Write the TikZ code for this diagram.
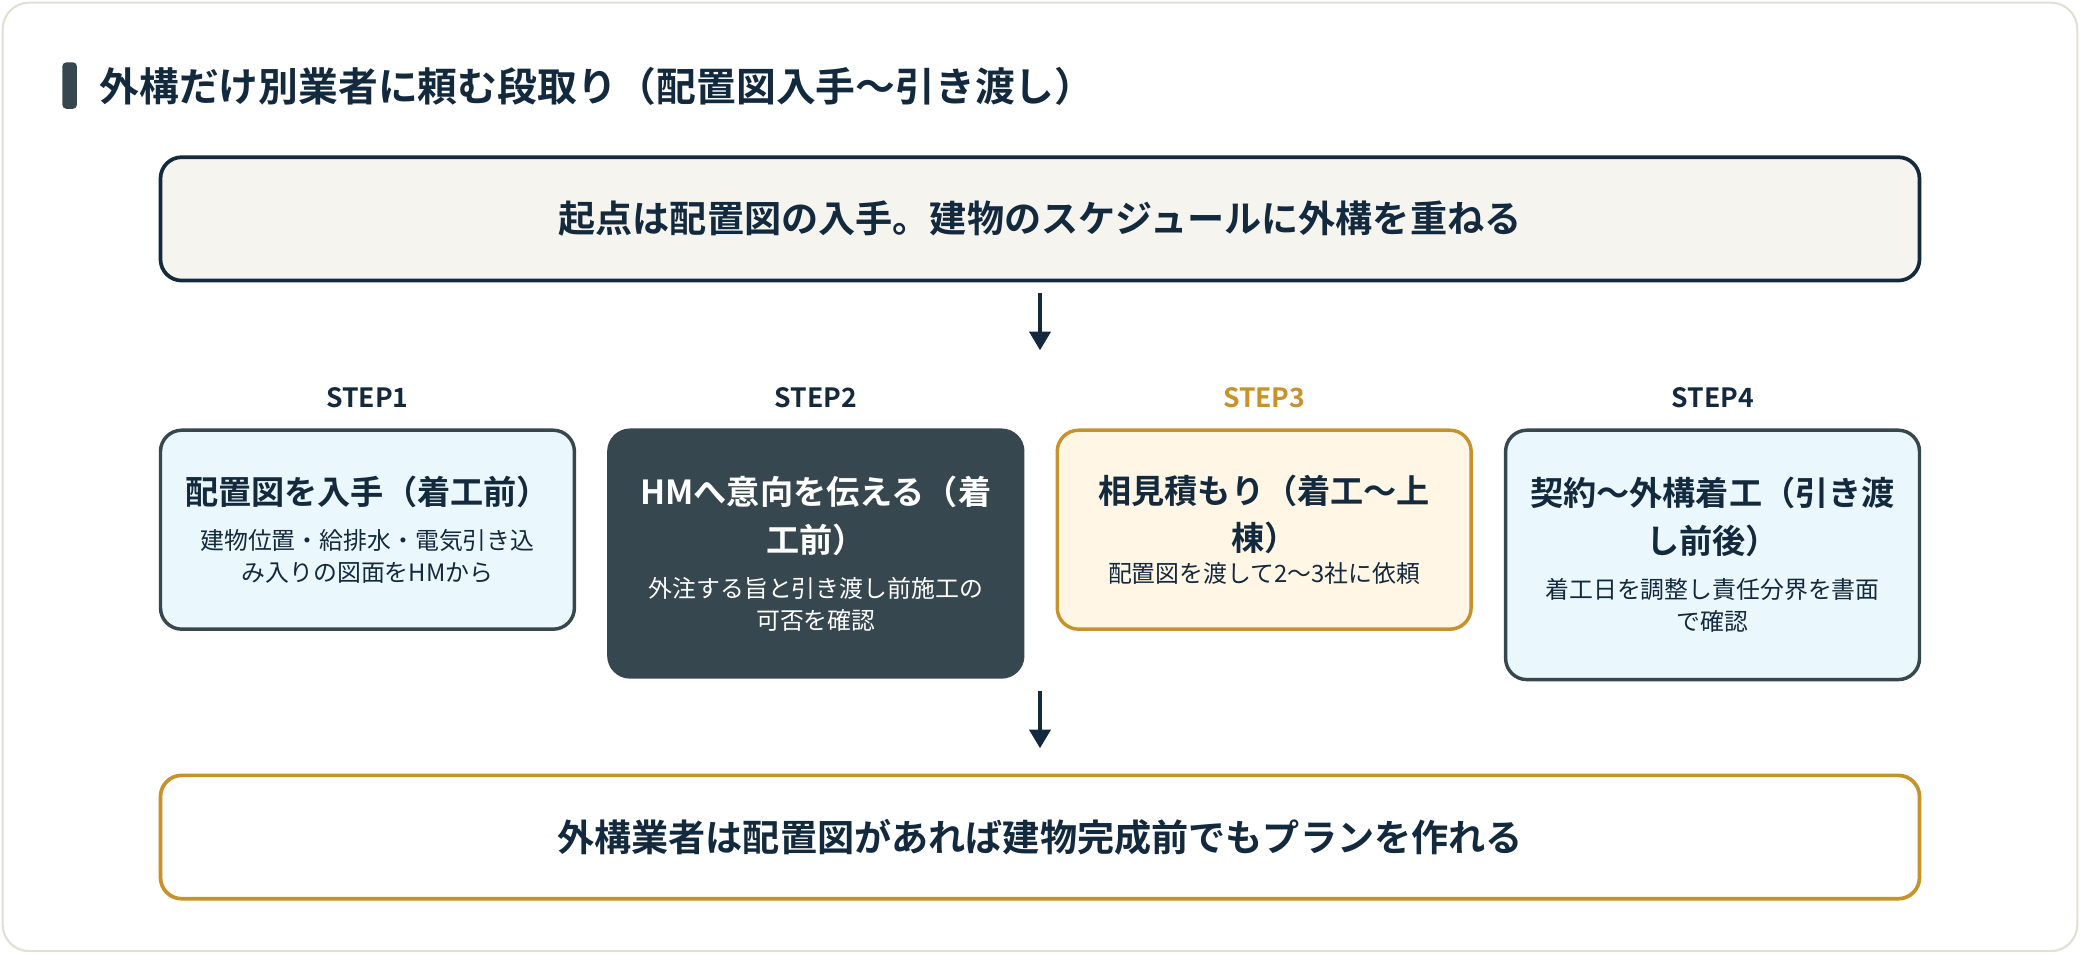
\documentclass[tikz,border=0pt]{standalone}
\usepackage{fontspec}
\setmainfont{Noto Sans CJK JP}[BoldFont={* Bold}]
\usetikzlibrary{positioning,arrows.meta}
\definecolor{navy}{HTML}{13293D}
\definecolor{slate}{HTML}{37474F}
\definecolor{gold}{HTML}{C8922A}
\definecolor{paleblue}{HTML}{EAF7FC}
\definecolor{palegold}{HTML}{FFF6E5}
\definecolor{cream}{HTML}{F5F4EF}
\definecolor{cardline}{HTML}{E2E0D2}
\newcommand\ttlfont{\bfseries\fontsize{12.5}{18}\selectfont}
\newcommand\bodyfont{\mdseries\fontsize{9}{17}\selectfont}
\tikzset{
  wide/.style={draw, rounded corners=8pt, line width=1.4pt, minimum width=663pt, minimum height=46.5pt, font=\bfseries\fontsize{14}{17}\selectfont, text=navy},
  stepbox/.style={draw, rounded corners=8pt, line width=1.3pt, minimum width=156pt, text width=150pt, align=center, inner sep=3pt, text=navy},
  steplbl/.style={font=\bfseries\fontsize{10}{12}\selectfont, text=navy},
  flow/.style={-{Triangle[length=7pt,width=8pt]}, line width=1.2pt, draw=navy}
}
\begin{document}
\begin{tikzpicture}[x=0.5pt,y=-0.5pt]
\useasboundingbox (0,0) rectangle (1568,719);

%card
\draw[cardline, fill=white, rounded corners=10pt, line width=0.8pt] (2,2) rectangle (1566,717);

%heading
\fill[slate, rounded corners=1.5pt] (47,47) rectangle (58,82);
\node[anchor=west, text=navy, font=\bfseries\fontsize{15}{18}\selectfont] (title) at (68,65) {外構だけ別業者に頼む段取り（配置図入手〜引き渡し）};

%start / goal
\node[wide, draw=navy, fill=cream] (start) at (784,165) {起点は配置図の入手。建物のスケジュールに外構を重ねる};
\node[wide, draw=gold, fill=white] (goal) at (784,631) {外構業者は配置図があれば建物完成前でもプランを作れる};

%steps
\node[steplbl] (lbl1) at (277,300) {STEP1};
\node[steplbl] (lbl2) at (615,300) {STEP2};
\node[steplbl, text=gold] (lbl3) at (953,300) {STEP3};
\node[steplbl] (lbl4) at (1291,300) {STEP4};

\node[stepbox, draw=slate, fill=paleblue, anchor=north, minimum height=75pt] (s1) at (277,323)
  {\ttlfont 配置図を入手（着工前）\\ \bodyfont 建物位置・給排水・電気引き込\\み入りの図面をHMから};
\node[stepbox, draw=slate, fill=slate, text=white, anchor=north, minimum height=93pt] (s2) at (615,323)
  {\ttlfont HMへ意向を伝える（着\\工前）\\ \bodyfont 外注する旨と引き渡し前施工の\\可否を確認};
\node[stepbox, draw=gold, fill=palegold, anchor=north, minimum height=75pt] (s3) at (953,323)
  {\ttlfont 相見積もり（着工〜上\\棟）\\ \bodyfont 配置図を渡して2〜3社に依頼};
\node[stepbox, draw=slate, fill=paleblue, anchor=north, minimum height=94pt] (s4) at (1291,323)
  {\ttlfont 契約〜外構着工（引き渡\\し前後）\\ \bodyfont 着工日を調整し責任分界を書面\\で確認};

%arrows
\coordinate (a1) at (784,221);
\coordinate (b1) at (784,264);
\coordinate (a2) at (784,521);
\coordinate (b2) at (784,564);
\draw[flow] (a1) -- (b1);
\draw[flow] (a2) -- (b2);
\end{tikzpicture}
\end{document}
